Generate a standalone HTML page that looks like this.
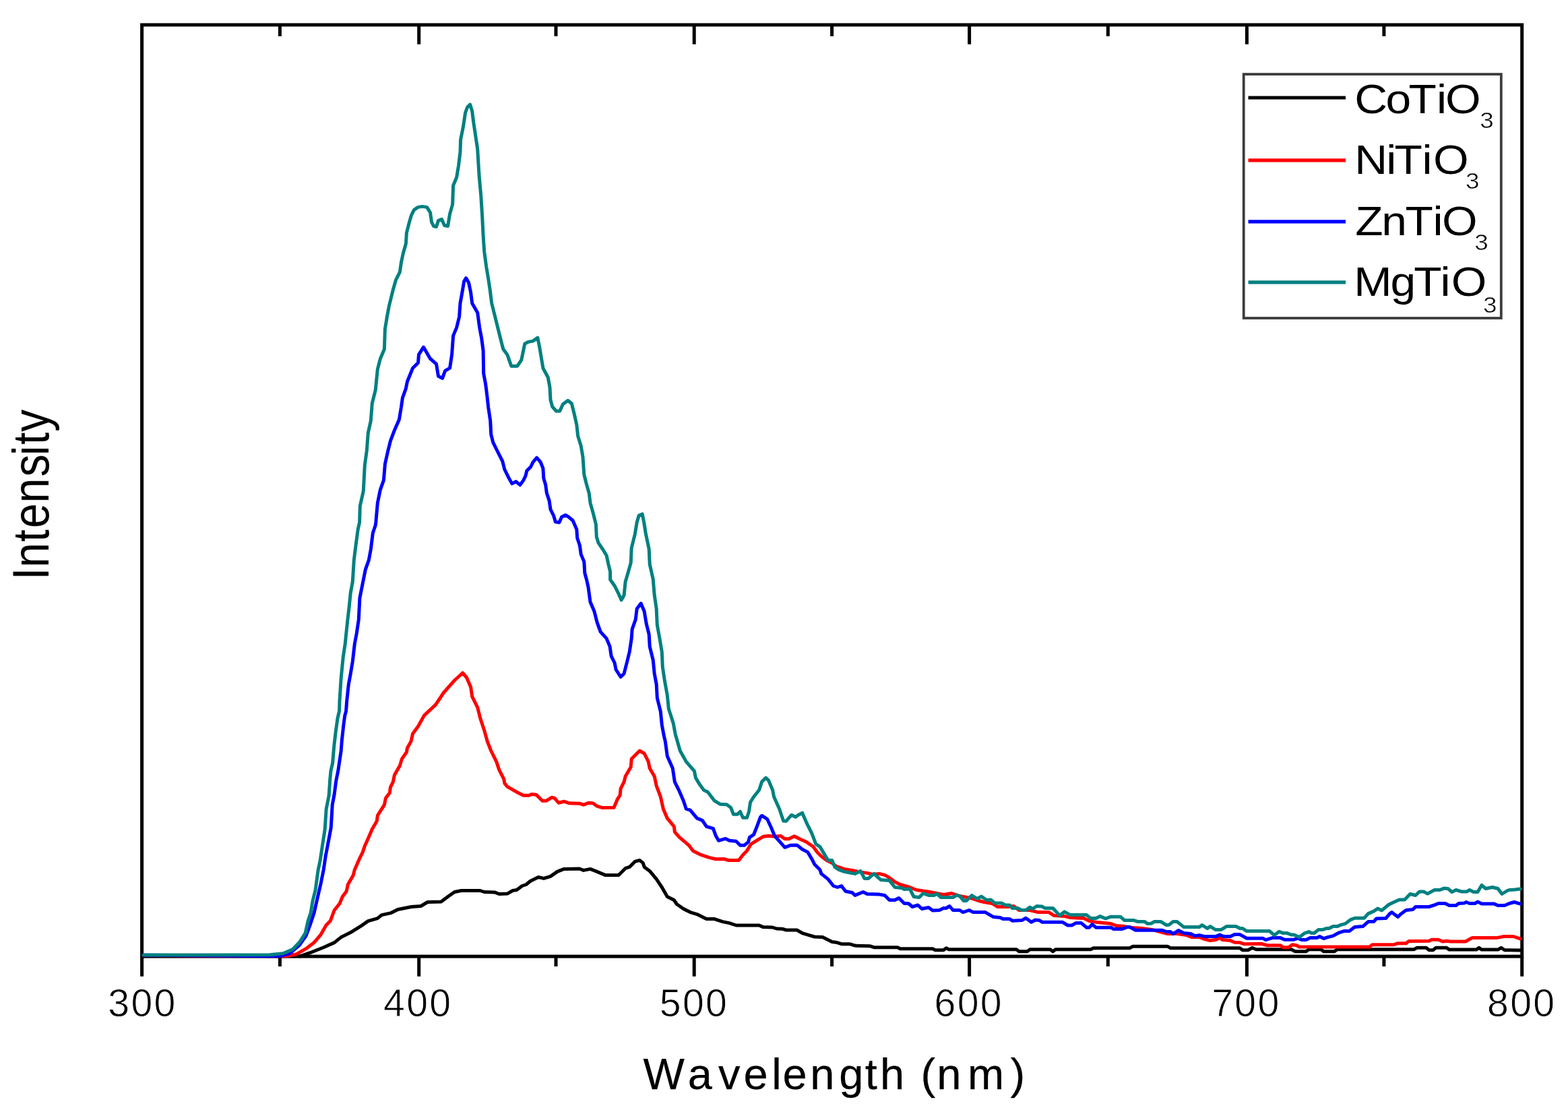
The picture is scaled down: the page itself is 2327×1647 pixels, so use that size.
<!DOCTYPE html>
<html lang="en"><head><meta charset="utf-8"><title>Photoluminescence spectra</title>
<style>html,body{margin:0;padding:0;background:#fff}body{width:2327px;height:1647px;overflow:hidden}svg{display:block}text{font-family:"Liberation Sans",Arial,Helvetica,sans-serif;fill:#000}</style></head><body>
<svg width="2327" height="1647" viewBox="0 0 2327 1647">
<rect x="0" y="0" width="2327" height="1647" fill="#fff"/>
<g stroke="#000" fill="none">
<rect x="210.6" y="36.9" width="2048.1" height="1382.2" stroke-width="5.0"/>
<line x1="210.6" y1="1419.1" x2="210.6" y2="1448.8" stroke-width="5.0"/>
<line x1="415.4" y1="36.9" x2="415.4" y2="53.7" stroke-width="5.0"/>
<line x1="415.4" y1="1419.1" x2="415.4" y2="1434.0" stroke-width="5.0"/>
<line x1="621.7" y1="36.9" x2="621.7" y2="65.7" stroke-width="5.0"/>
<line x1="621.7" y1="1419.1" x2="621.7" y2="1448.8" stroke-width="5.0"/>
<line x1="825.0" y1="36.9" x2="825.0" y2="53.7" stroke-width="5.0"/>
<line x1="825.0" y1="1419.1" x2="825.0" y2="1434.0" stroke-width="5.0"/>
<line x1="1030.2" y1="36.9" x2="1030.2" y2="65.7" stroke-width="5.0"/>
<line x1="1030.2" y1="1419.1" x2="1030.2" y2="1448.8" stroke-width="5.0"/>
<line x1="1234.6" y1="36.9" x2="1234.6" y2="53.7" stroke-width="5.0"/>
<line x1="1234.6" y1="1419.1" x2="1234.6" y2="1434.0" stroke-width="5.0"/>
<line x1="1438.6" y1="36.9" x2="1438.6" y2="65.7" stroke-width="5.0"/>
<line x1="1438.6" y1="1419.1" x2="1438.6" y2="1448.8" stroke-width="5.0"/>
<line x1="1644.3" y1="36.9" x2="1644.3" y2="53.7" stroke-width="5.0"/>
<line x1="1644.3" y1="1419.1" x2="1644.3" y2="1434.0" stroke-width="5.0"/>
<line x1="1850.4" y1="36.9" x2="1850.4" y2="65.7" stroke-width="5.0"/>
<line x1="1850.4" y1="1419.1" x2="1850.4" y2="1448.8" stroke-width="5.0"/>
<line x1="2053.9" y1="36.9" x2="2053.9" y2="53.7" stroke-width="5.0"/>
<line x1="2053.9" y1="1419.1" x2="2053.9" y2="1434.0" stroke-width="5.0"/>
<line x1="2258.7" y1="1419.1" x2="2258.7" y2="1448.8" stroke-width="5.0"/>
</g>
<g fill="none" stroke-linejoin="round" stroke-linecap="round">
<path stroke="#000000" stroke-width="5.00" d="M213.0,1417.6L446.1,1418.7L460.1,1413.7L480.2,1405.7L496.2,1398.6L506.2,1390.6L520.3,1383.6L536.3,1373.6L546.3,1366.6L560.3,1362.6L566.4,1357.6L580.4,1354.6L590.4,1349.5L610.5,1345.5L624.5,1344.5L634.5,1338.5L654.6,1338.1L664.6,1330.5L674.6,1323.5L684.6,1321.5L712.7,1321.5L718.7,1323.5L734.7,1324.1L740.7,1326.5L752.8,1326.1L760.8,1321.5L766.8,1320.5L774.8,1314.5L780.8,1312.5L786.8,1307.5L798.9,1301.4L806.9,1303.4L816.9,1300.4L826.9,1293.4L836.9,1289.4L860.0,1289.0L866.0,1291.4L876.0,1289.4L886.1,1293.4L898.1,1298.4L918.1,1298.4L928.1,1288.4L934.2,1286.4L942.2,1278.4L949.2,1276.4L954.2,1280.4L956.2,1286.4L964.2,1292.4L974.2,1304.4L982.3,1316.5L990.3,1330.5L1000.3,1335.5L1004.3,1341.5L1014.3,1348.5L1024.4,1353.6L1034.4,1356.6L1048.4,1363.6L1060.4,1363.6L1072.5,1367.6L1082.5,1369.6L1092.5,1373.0L1126.6,1373.0L1132.6,1375.6L1146.6,1376.0L1152.6,1378.0L1160.7,1378.2L1166.7,1380.0L1182.7,1380.0L1190.7,1384.6L1200.7,1387.6L1208.8,1390.0L1220.8,1390.6L1234.8,1397.6L1240.8,1398.2L1248.8,1400.7L1260.9,1400.7L1268.9,1403.1L1290.9,1403.7L1296.9,1405.7L1320.0,1405.7L1332.0,1405.7L1336.0,1407.7L1384.1,1407.7L1388.1,1409.7L1400.2,1409.7L1404.2,1406.7L1408.2,1408.7L1508.4,1408.7L1512.4,1411.7L1524.4,1411.7L1528.5,1408.7L1558.5,1408.7L1562.5,1411.7L1566.5,1408.7L1618.6,1408.7L1622.7,1406.7L1676.8,1406.7L1680.8,1404.3L1732.9,1404.3L1736.9,1406.7L1780.0,1406.7L1840.1,1406.7L1844.1,1409.7L1852.2,1409.7L1858.2,1406.3L1864.2,1408.7L1916.3,1408.7L1922.3,1411.7L1938.3,1411.7L1942.4,1408.7L1960.4,1408.7L1964.4,1411.7L1980.4,1411.7L1984.4,1408.7L2098.7,1408.7L2102.7,1406.3L2116.7,1406.3L2120.7,1409.7L2126.8,1409.7L2130.8,1406.3L2146.8,1406.3L2150.8,1409.1L2190.9,1409.1L2194.9,1406.3L2198.9,1409.1L2223.0,1409.1L2228.0,1406.3L2233.0,1409.7L2240.0,1409.7L2256.0,1410.0"/>
<path stroke="#ff0000" stroke-width="5.00" d="M213.0,1417.4L426.1,1418.7L440.1,1415.7L454.1,1407.7L466.1,1398.6L476.2,1386.6L484.2,1372.6L490.2,1366.6L496.2,1350.5L504.2,1340.5L508.2,1330.5L514.2,1322.5L516.3,1312.5L524.3,1298.4L526.3,1290.4L533.3,1274.4L538.3,1264.4L541.3,1255.3L546.3,1244.3L552.3,1230.3L559.3,1218.3L560.3,1210.2L570.4,1194.2L572.4,1184.2L578.4,1176.2L579.4,1168.1L583.4,1160.1L585.4,1150.1L593.4,1136.1L596.4,1126.1L603.4,1116.0L604.4,1110.0L610.0,1100.0L612.5,1088.7L620.5,1077.7L629.5,1061.6L646.5,1045.6L658.6,1027.5L674.6,1009.5L686.6,998.5L692.6,1005.5L698.6,1019.5L700.7,1033.6L708.7,1049.6L712.7,1065.6L718.7,1083.7L723.2,1100.0L728.7,1114.0L736.7,1130.1L740.7,1142.1L747.8,1156.1L748.8,1162.1L752.8,1167.1L766.8,1175.2L776.8,1180.2L784.8,1180.2L788.8,1178.6L795.9,1179.2L804.9,1188.2L810.9,1188.2L818.9,1183.2L822.9,1184.2L828.9,1191.2L836.9,1189.2L845.0,1191.8L860.0,1192.2L866.0,1194.2L874.0,1191.2L880.0,1191.8L886.1,1196.2L894.1,1198.6L911.1,1198.2L916.1,1186.2L920.1,1180.2L921.1,1170.2L926.1,1160.1L928.1,1152.1L936.2,1138.1L937.2,1126.1L944.2,1119.0L949.2,1114.0L956.2,1118.0L962.2,1130.1L964.2,1140.1L971.2,1152.1L974.2,1166.1L980.3,1182.2L984.3,1200.2L990.3,1214.2L1000.3,1226.3L1001.3,1234.3L1008.3,1242.3L1022.4,1254.3L1028.4,1262.4L1040.4,1268.4L1052.4,1272.4L1062.4,1274.8L1074.5,1274.4L1080.5,1276.4L1096.5,1276.4L1102.5,1268.4L1108.5,1262.4L1114.6,1252.3L1122.6,1247.3L1132.6,1241.3L1140.6,1240.3L1150.6,1241.3L1158.6,1240.3L1164.7,1244.7L1170.7,1244.7L1178.7,1240.7L1186.7,1244.7L1196.7,1249.3L1206.8,1256.3L1212.8,1264.4L1218.8,1270.4L1226.8,1276.4L1234.8,1280.4L1240.8,1285.4L1252.9,1289.4L1264.9,1291.4L1272.9,1293.4L1286.9,1295.4L1294.9,1297.4L1305.0,1296.4L1313.0,1298.4L1320.0,1302.4L1328.0,1308.5L1336.0,1312.5L1350.1,1316.5L1360.1,1320.5L1380.1,1323.5L1400.2,1327.5L1412.2,1325.5L1424.2,1329.5L1440.3,1332.5L1452.3,1336.5L1460.3,1338.5L1472.3,1340.5L1480.3,1345.5L1496.4,1345.5L1504.4,1344.5L1512.4,1350.5L1528.5,1350.5L1540.5,1353.6L1556.5,1353.6L1564.5,1358.6L1580.6,1359.6L1588.6,1361.6L1608.6,1362.6L1616.6,1366.6L1628.7,1368.6L1648.7,1370.6L1656.7,1373.6L1668.8,1374.6L1680.8,1376.6L1696.8,1377.6L1710.8,1379.6L1724.9,1383.6L1732.9,1385.6L1746.9,1385.6L1761.0,1387.6L1769.0,1390.6L1780.0,1390.6L1788.0,1393.6L1796.0,1395.6L1804.1,1394.6L1810.1,1391.6L1814.1,1394.6L1826.1,1395.6L1832.1,1398.2L1840.1,1398.6L1846.1,1400.7L1872.2,1400.3L1880.2,1402.7L1900.3,1402.7L1904.3,1405.7L1912.3,1405.7L1918.3,1401.7L1924.3,1402.7L1928.3,1405.1L2032.5,1405.1L2036.6,1401.7L2068.6,1401.7L2074.6,1399.7L2086.7,1399.7L2090.7,1396.6L2120.7,1396.2L2124.7,1394.2L2134.8,1394.2L2140.8,1397.0L2146.8,1396.2L2152.8,1397.0L2174.9,1397.0L2180.9,1393.6L2184.9,1391.6L2221.0,1391.6L2231.0,1389.6L2240.0,1389.6L2246.0,1389.5L2256.0,1392.9"/>
<path stroke="#0000ff" stroke-width="5.00" d="M213.0,1417.2L416.0,1418.7L430.1,1414.7L444.1,1402.7L454.1,1388.6L460.1,1372.6L466.1,1354.6L470.2,1336.5L476.2,1310.5L480.2,1290.4L483.2,1270.4L488.2,1244.3L491.2,1228.3L492.2,1212.2L493.2,1194.2L496.2,1178.2L498.8,1158.3L501.8,1143.5L504.0,1128.7L506.2,1113.9L507.3,1099.1L509.9,1075.5L511.7,1062.2L513.6,1054.8L514.7,1040.0L517.3,1015.5L520.3,999.5L523.3,981.4L526.3,955.4L529.3,939.4L532.3,919.3L533.9,887.2L538.3,865.2L542.3,845.2L547.3,831.1L550.3,815.1L553.3,791.0L557.3,779.0L557.8,775.0L560.3,746.6L564.4,726.6L569.4,712.6L571.4,688.5L575.4,670.5L579.4,654.4L585.4,638.4L592.4,622.4L595.4,604.3L597.4,590.3L602.4,576.3L604.4,566.3L612.5,546.2L620.5,538.2L621.5,526.2L628.5,515.1L638.5,532.2L647.5,540.2L650.5,558.2L656.6,561.2L660.6,550.2L667.6,546.2L670.6,526.2L672.6,498.1L677.6,486.1L681.6,470.0L683.0,450.0L686.6,429.7L688.6,417.6L691.6,412.6L695.6,419.6L698.6,433.7L700.7,450.0L708.7,464.0L711.7,486.1L714.7,502.1L717.1,520.2L717.7,554.2L720.7,570.3L722.7,586.3L724.7,604.3L727.7,624.4L728.7,644.4L731.7,656.4L738.7,670.5L745.8,684.5L748.8,696.5L754.8,708.6L759.8,717.6L765.8,714.6L771.8,719.6L776.8,712.6L780.0,706.0L781.8,698.6L787.4,693.0L791.1,685.6L796.6,679.2L802.2,685.6L805.9,694.9L806.8,709.7L809.6,718.9L811.4,731.8L815.1,742.9L817.0,755.8L821.6,765.1L824.3,774.3L829.9,775.2L833.6,766.9L839.1,764.2L843.7,766.9L850.2,772.5L855.8,785.4L856.7,798.3L860.4,809.4L862.2,822.4L866.8,833.4L867.8,850.1L870.5,860.0L873.0,871.2L876.0,893.3L882.0,907.3L886.1,923.3L891.1,937.4L900.1,947.4L905.1,959.4L907.1,973.4L912.1,983.5L914.1,993.5L921.1,1004.5L926.1,999.5L930.2,983.5L934.2,967.4L937.2,947.4L938.2,933.3L943.2,919.3L945.2,903.3L951.2,895.3L956.2,907.3L959.2,925.3L963.2,941.4L964.2,959.4L969.2,979.4L971.2,999.5L974.2,1015.5L975.3,1035.6L980.3,1055.6L982.3,1075.7L985.3,1091.7L987.3,1100.0L990.3,1122.0L998.3,1140.1L1001.3,1160.1L1008.3,1174.2L1014.3,1188.2L1018.3,1200.2L1024.4,1202.2L1034.4,1214.2L1042.4,1217.3L1048.4,1226.3L1058.4,1229.3L1062.4,1240.3L1066.4,1247.3L1076.5,1244.3L1082.5,1247.3L1092.5,1248.3L1098.5,1254.3L1104.5,1254.3L1110.5,1249.3L1112.5,1242.3L1118.6,1238.3L1122.6,1228.3L1128.6,1212.2L1130.6,1210.2L1138.6,1215.3L1144.6,1228.3L1149.6,1240.3L1158.6,1250.3L1164.7,1257.3L1172.7,1254.3L1182.7,1253.9L1190.7,1260.3L1198.7,1264.4L1204.7,1274.4L1208.8,1282.4L1216.8,1290.4L1218.8,1296.4L1228.8,1304.4L1236.8,1314.5L1242.8,1316.5L1248.8,1314.5L1254.9,1322.5L1264.9,1324.5L1268.9,1328.5L1280.9,1323.5L1286.9,1326.5L1305.0,1327.1L1313.0,1328.5L1320.0,1335.5L1328.0,1335.5L1334.0,1332.5L1342.0,1340.5L1348.1,1340.5L1354.1,1345.5L1362.1,1342.9L1368.1,1348.5L1378.1,1346.5L1384.1,1350.9L1394.2,1350.5L1400.2,1347.5L1404.2,1347.5L1409.2,1344.5L1414.2,1350.5L1424.2,1350.5L1429.2,1353.6L1438.3,1350.5L1444.3,1353.6L1462.3,1353.6L1474.3,1360.6L1484.4,1361.6L1488.4,1363.6L1498.4,1363.6L1502.4,1366.2L1516.4,1365.6L1522.4,1362.2L1530.5,1368.2L1536.5,1365.0L1542.5,1365.6L1546.5,1368.2L1576.6,1368.2L1584.6,1373.0L1590.6,1373.0L1596.6,1369.6L1604.6,1369.6L1612.6,1376.2L1616.6,1376.2L1620.7,1371.6L1626.7,1376.2L1648.7,1376.2L1652.7,1378.6L1664.7,1378.6L1672.8,1375.6L1676.8,1375.6L1684.8,1380.2L1724.9,1380.2L1730.9,1382.6L1736.9,1382.6L1740.9,1385.6L1748.9,1380.6L1756.9,1384.6L1767.0,1385.6L1773.0,1388.6L1780.0,1387.6L1788.0,1389.6L1804.1,1389.6L1810.1,1387.0L1816.1,1389.6L1826.1,1389.6L1832.1,1386.6L1840.1,1386.6L1850.2,1392.2L1874.2,1392.2L1878.2,1394.6L1888.2,1391.6L1900.3,1391.6L1906.3,1394.2L1920.3,1394.2L1926.3,1392.2L1932.3,1394.6L1938.3,1394.6L1944.4,1391.6L1954.4,1391.6L1958.4,1389.6L1964.4,1392.6L1970.4,1390.6L1978.4,1388.6L1986.4,1384.2L1994.5,1381.6L2002.5,1381.6L2010.5,1375.6L2022.5,1374.6L2030.5,1367.6L2038.6,1367.6L2042.6,1363.0L2056.6,1362.6L2062.6,1355.6L2065.6,1353.6L2070.6,1357.6L2074.6,1360.6L2078.6,1356.6L2086.7,1350.5L2096.7,1349.5L2100.7,1345.5L2120.7,1345.5L2128.8,1342.9L2134.8,1340.5L2144.8,1340.5L2150.8,1343.5L2160.8,1343.5L2164.8,1340.5L2172.9,1340.1L2175.9,1338.5L2180.9,1340.5L2188.9,1340.5L2192.9,1338.1L2198.9,1340.9L2216.9,1340.9L2223.0,1343.5L2233.0,1343.5L2240.0,1340.5L2247.3,1338.5L2256.0,1341.1"/>
<path stroke="#008080" stroke-width="5.00" d="M213.0,1417.0L400.0,1416.7L420.0,1414.7L434.1,1408.7L444.1,1398.6L453.1,1384.6L457.1,1366.6L461.1,1354.6L464.1,1336.5L468.1,1320.5L472.2,1290.4L475.2,1276.4L478.2,1256.3L482.2,1230.3L484.2,1200.2L488.2,1180.2L489.6,1158.3L491.0,1143.5L493.6,1132.4L495.8,1106.5L498.4,1084.3L501.0,1065.9L503.6,1054.8L504.0,1040.0L506.2,1005.5L509.2,975.4L512.2,955.4L515.3,925.3L518.3,899.3L520.3,879.2L523.3,863.2L525.3,831.1L528.3,807.1L531.3,785.0L533.6,775.0L534.3,750.7L539.3,728.6L541.3,690.5L544.3,668.5L546.3,642.4L550.3,624.4L552.3,598.3L557.3,578.3L560.3,548.2L564.4,532.2L570.4,518.1L571.4,488.1L574.4,470.0L577.4,454.0L578.4,450.0L583.4,429.7L587.4,415.6L593.4,403.6L595.4,389.6L598.4,375.5L602.4,361.5L603.4,345.5L607.5,329.4L610.5,319.4L614.5,311.4L620.5,307.4L626.5,306.4L633.5,307.4L638.5,315.4L640.5,329.4L643.5,335.5L647.5,336.5L650.5,327.4L655.6,325.4L659.6,334.5L664.6,335.5L667.6,317.4L671.6,303.4L672.6,275.3L677.6,263.3L680.6,245.3L683.0,225.2L683.6,207.2L687.6,187.1L690.6,167.1L693.6,159.1L697.6,155.1L700.7,165.1L702.7,181.1L705.7,201.2L708.7,221.2L711.1,261.3L713.7,289.4L715.7,321.4L717.1,349.5L718.7,373.5L721.7,395.6L724.7,413.6L727.1,429.7L729.7,450.0L733.7,466.0L738.7,486.1L742.7,502.1L746.8,518.1L752.8,526.2L758.8,543.2L767.8,543.2L773.8,534.2L778.8,510.1L784.8,507.1L790.8,506.1L797.9,501.1L800.9,516.1L805.9,546.2L813.3,560.0L816.0,574.8L817.0,593.3L819.7,603.4L825.3,609.9L830.8,609.9L835.4,599.7L842.8,594.2L848.4,598.8L852.1,613.6L855.8,630.2L857.6,646.8L862.2,661.6L865.0,678.2L866.8,704.1L870.5,718.9L874.2,731.8L876.1,746.6L880.7,763.2L884.4,778.0L885.3,796.5L888.1,805.7L894.5,815.0L900.1,824.2L902.9,837.1L905.6,848.2L905.6,860.0L912.1,869.2L918.1,881.2L922.1,890.3L926.1,883.2L928.1,863.2L932.2,849.2L936.2,835.1L937.2,813.1L942.2,793.0L945.2,775.0L948.2,764.7L953.2,762.7L955.7,775.0L958.2,791.0L963.2,815.1L964.2,837.1L969.2,859.2L971.2,883.2L974.2,903.3L975.3,927.3L979.3,949.4L982.3,967.4L983.3,989.5L986.3,1009.5L990.3,1031.6L992.3,1051.6L999.3,1073.6L1002.3,1089.7L1005.3,1100.0L1009.3,1114.0L1018.3,1130.1L1030.4,1144.1L1032.4,1154.1L1038.4,1164.1L1044.4,1172.2L1050.4,1175.2L1060.4,1188.2L1068.5,1193.2L1078.5,1193.8L1084.5,1198.2L1088.5,1208.2L1094.5,1208.2L1098.5,1204.2L1102.5,1213.2L1108.5,1213.2L1111.5,1204.2L1113.6,1190.2L1118.6,1182.2L1126.6,1172.2L1130.6,1160.1L1136.6,1154.1L1140.6,1158.1L1146.6,1172.2L1148.6,1182.2L1156.6,1200.2L1162.7,1218.3L1166.7,1218.3L1174.7,1209.2L1180.7,1212.2L1184.7,1209.2L1190.7,1206.2L1196.7,1220.3L1204.7,1236.3L1210.8,1252.3L1216.8,1256.3L1222.8,1266.4L1228.8,1276.4L1234.8,1276.4L1238.8,1286.4L1244.8,1290.4L1252.9,1293.4L1262.9,1295.4L1268.9,1296.4L1276.9,1292.4L1282.9,1303.4L1288.9,1303.4L1296.9,1296.4L1307.0,1305.4L1320.0,1306.4L1328.0,1316.5L1338.0,1317.5L1342.0,1319.5L1350.1,1318.9L1356.1,1330.5L1364.1,1331.5L1370.1,1325.5L1378.1,1328.5L1386.1,1328.5L1390.2,1326.1L1396.2,1331.5L1414.2,1331.5L1420.2,1328.1L1424.2,1329.5L1430.2,1336.5L1434.2,1336.5L1442.3,1328.5L1450.3,1333.5L1456.3,1330.1L1464.3,1335.5L1470.3,1334.9L1476.3,1340.1L1486.4,1340.1L1492.4,1342.9L1498.4,1342.9L1502.4,1347.5L1510.4,1347.5L1516.4,1350.5L1522.4,1350.5L1528.5,1346.1L1532.5,1348.5L1538.5,1344.5L1546.5,1344.9L1550.5,1347.5L1562.5,1347.5L1572.5,1358.2L1579.6,1352.9L1588.6,1357.6L1612.6,1357.6L1618.6,1362.6L1626.7,1362.6L1632.7,1359.6L1640.7,1363.0L1648.7,1360.2L1662.7,1360.2L1668.8,1365.6L1682.8,1365.6L1688.8,1367.6L1698.8,1367.6L1702.8,1370.6L1708.8,1370.2L1712.9,1367.6L1722.9,1367.6L1730.9,1372.6L1734.9,1372.2L1740.9,1367.6L1746.9,1367.6L1756.9,1375.6L1780.0,1375.6L1784.0,1372.6L1792.0,1377.6L1796.0,1374.6L1804.1,1379.6L1812.1,1379.6L1820.1,1374.6L1834.1,1374.6L1840.1,1377.6L1844.1,1377.6L1850.2,1381.6L1884.2,1381.6L1891.2,1387.6L1898.3,1382.2L1904.3,1384.6L1910.3,1384.6L1916.3,1387.0L1920.3,1387.0L1928.3,1390.6L1936.3,1384.6L1942.4,1382.6L1946.4,1384.6L1950.4,1384.6L1956.4,1379.6L1962.4,1379.6L1968.4,1377.6L1972.4,1377.6L1978.4,1374.6L1984.4,1374.6L1990.5,1372.2L1996.5,1370.6L2004.5,1364.6L2010.5,1362.2L2024.5,1362.2L2030.5,1355.6L2038.6,1352.1L2044.6,1348.1L2050.6,1350.9L2060.6,1342.5L2066.6,1339.5L2076.6,1334.9L2084.7,1334.9L2092.7,1326.5L2100.7,1328.5L2106.7,1322.9L2112.7,1322.9L2118.7,1326.1L2128.8,1320.5L2136.8,1320.5L2142.8,1318.1L2148.8,1318.5L2154.8,1323.5L2160.8,1320.5L2168.8,1322.9L2176.9,1322.9L2180.9,1320.5L2186.9,1323.5L2192.9,1323.5L2198.9,1313.5L2204.9,1318.5L2214.9,1316.5L2223.0,1318.5L2229.0,1326.5L2237.0,1321.5L2240.0,1320.5L2248.0,1320.0L2256.0,1318.9"/>
</g>
<text transform="translate(211.5,1508.0) scale(1.000,1)" font-size="57.2" letter-spacing="2.30" text-anchor="middle" stroke="#fff" stroke-width="0.80">300</text>
<text transform="translate(620.2,1508.0) scale(1.000,1)" font-size="57.2" letter-spacing="2.30" text-anchor="middle" stroke="#fff" stroke-width="0.80">400</text>
<text transform="translate(1030.0,1508.0) scale(1.000,1)" font-size="57.2" letter-spacing="2.30" text-anchor="middle" stroke="#fff" stroke-width="0.80">500</text>
<text transform="translate(1437.7,1508.0) scale(1.000,1)" font-size="57.2" letter-spacing="2.30" text-anchor="middle" stroke="#fff" stroke-width="0.80">600</text>
<text transform="translate(1849.4,1508.0) scale(1.000,1)" font-size="57.2" letter-spacing="2.30" text-anchor="middle" stroke="#fff" stroke-width="0.80">700</text>
<text transform="translate(2258.2,1508.0) scale(1.000,1)" font-size="57.2" letter-spacing="2.30" text-anchor="middle" stroke="#fff" stroke-width="0.80">800</text>
<text x="954.4 1020.8 1065.9 1103.4 1145.2 1161.5 1202.2 1245.3 1283.8 1305.9 1342.0 1366.4 1390.3 1436.0 1499.4" y="1615.8" font-size="65.0" stroke="#000" stroke-width="0.25">Wavelength (nm)</text>
<text transform="translate(72.0,860.0) rotate(-90) scale(1,1.160)" x="-0.5 18.1 55.9 76.6 113.7 152.7 184.0 200.2 219.2" y="0" font-size="66.0">Intensity</text>
<rect x="1845.7" y="110.1" width="382.1" height="361.9" fill="#fff" stroke="#3c3c3c" stroke-width="3.8"/>
<line x1="1852.5" y1="145.0" x2="1997" y2="145.0" stroke="#000000" stroke-width="5.2"/>
<text transform="scale(1.100,1)" x="1827.4 1869.6 1900.5 1938.1 1950.0" y="167.6" font-size="61.5">CoTiO<tspan x="1996.6" dy="22.3" font-size="33.5" stroke="#fff" stroke-width="0.50">3</tspan></text>
<line x1="1852.5" y1="237.9" x2="1997" y2="237.9" stroke="#ff0000" stroke-width="5.2"/>
<text transform="scale(1.100,1)" x="1827.5 1870.3 1881.3 1918.7 1933.6" y="258.0" font-size="61.5">NiTiO<tspan x="1977.3" dy="21.6" font-size="33.5" stroke="#fff" stroke-width="0.50">3</tspan></text>
<line x1="1852.5" y1="328.8" x2="1997" y2="328.8" stroke="#0000ff" stroke-width="5.2"/>
<text transform="scale(1.100,1)" x="1828.4 1863.8 1895.9 1933.1 1945.5" y="348.6" font-size="61.5">ZnTiO<tspan x="1989.4" dy="22.6" font-size="33.5" stroke="#fff" stroke-width="0.50">3</tspan></text>
<line x1="1852.5" y1="418.9" x2="1997" y2="418.9" stroke="#008080" stroke-width="5.2"/>
<text transform="scale(1.100,1)" x="1826.5 1876.0 1907.6 1943.2 1958.0" y="439.5" font-size="61.5">MgTiO<tspan x="2001.0" dy="24.4" font-size="33.5" stroke="#fff" stroke-width="0.50">3</tspan></text>
</svg></body></html>
